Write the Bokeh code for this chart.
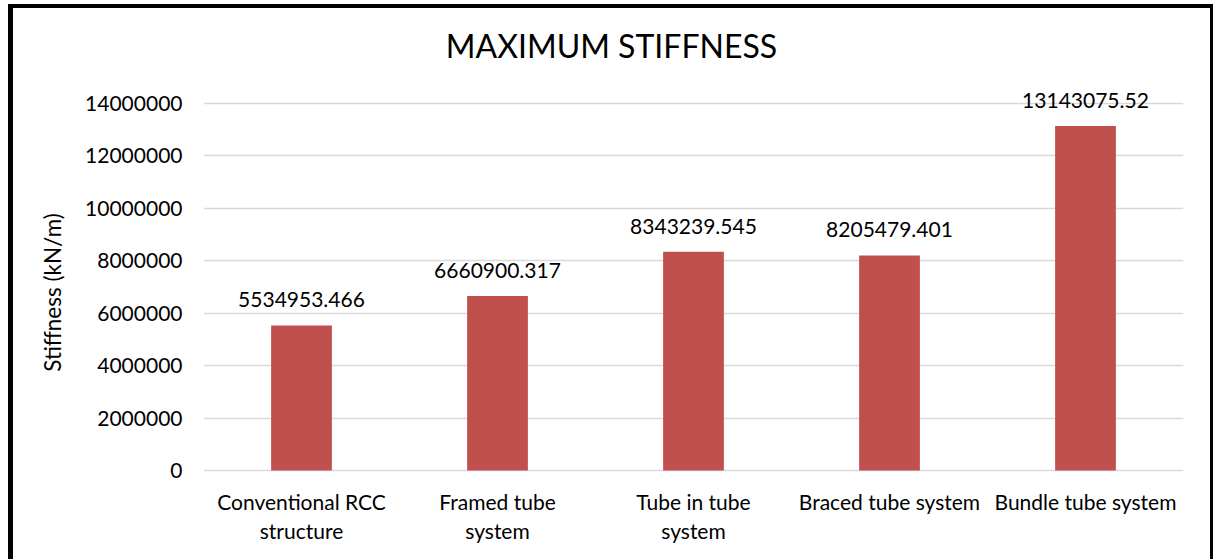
from bokeh.plotting import figure
from bokeh.models import ColumnDataSource, LabelSet, Label, FixedTicker, BasicTickFormatter
from bokeh.core.properties import value
from bokeh.embed import file_html
from bokeh.resources import INLINE

categories = ["Conventional RCC structure", "Framed tube system", "Tube in tube system",
              "Braced tube system", "Bundle tube system"]
category_line1 = ["Conventional RCC", "Framed tube", "Tube in tube",
                  "Braced tube system", "Bundle tube system"]
category_line2 = ["structure", "system", "system", "", ""]
stiffness = [5534953.466, 6660900.317, 8343239.545, 8205479.401, 13143075.52]
value_labels = ["5534953.466", "6660900.317", "8343239.545", "8205479.401", "13143075.52"]
y_ticks = [0, 2000000, 4000000, 6000000, 8000000, 10000000, 12000000, 14000000]

FONT = "Lato"
Y_MAX = 14000000
PX_PER_UNIT = 367 / Y_MAX  # plot area: 367 px for 0..14M

source = ColumnDataSource(dict(cat=categories, val=stiffness, lab=value_labels,
                               l1=category_line1, l2=category_line2,
                               base=[0] * len(categories)))

p = figure(x_range=categories,
           y_range=(-89 / PX_PER_UNIT, Y_MAX + 78 / PX_PER_UNIT),
           width=1197, height=551,
           output_backend="svg", toolbar_location=None,
           min_border_left=190, min_border_right=27, min_border_top=17, min_border_bottom=0,
           styles={"margin-left": "13px", "margin-top": "8px",
                   "box-shadow": "-5px -4px 0 0 black, 3px -4px 0 0 black, "
                                 "-5px 0 0 0 black, 3px 0 0 0 black"})
p.outline_line_color = None
p.background_fill_color = "white"
p.border_fill_color = "white"

p.vbar(x="cat", top="val", width=0.31, source=source, fill_color="#c0504d", line_color=None)

labels = LabelSet(x="cat", y="val", text="lab", source=source, y_offset=18,
                  text_align="center", text_baseline="alphabetic",
                  text_font=value(FONT), text_font_size=value("21px"), text_color="#000000")
p.add_layout(labels)

for col, off in (("l1", -39), ("l2", -68)):
    p.add_layout(LabelSet(x="cat", y="base", text=col, source=source, y_offset=off,
                          text_align="center", text_baseline="alphabetic",
                          text_font=value(FONT), text_font_size=value("21px"),
                          text_color="#000000"))

title = Label(x=408, y=514, x_units="screen", y_units="screen", text="MAXIMUM STIFFNESS",
              text_align="center", text_baseline="alphabetic",
              text_font=FONT, text_font_size="32px", text_color="#000000")
p.add_layout(title)

ticker = FixedTicker(ticks=y_ticks)
p.xgrid.grid_line_color = None
p.ygrid.ticker = ticker
p.ygrid.grid_line_color = "#d9d9d9"
p.ygrid.grid_line_width = 1.5

p.xaxis.visible = False

p.yaxis.ticker = ticker
p.yaxis.formatter = BasicTickFormatter(use_scientific=False)
p.yaxis.axis_line_color = None
p.yaxis.major_tick_line_color = None
p.yaxis.minor_tick_line_color = None
p.yaxis.major_tick_out = 0
p.yaxis.major_tick_in = 0
p.yaxis.major_label_standoff = 21
p.yaxis.major_label_text_font = FONT
p.yaxis.major_label_text_font_size = "21px"
p.yaxis.major_label_text_color = "#000000"
p.yaxis.axis_label = "Stiffness (kN/m)"
p.yaxis.axis_label_text_font = FONT
p.yaxis.axis_label_text_font_size = "22.5px"
p.yaxis.axis_label_text_font_style = "normal"
p.yaxis.axis_label_text_color = "#000000"
p.yaxis.axis_label_standoff = 16

open("out.html", "w").write(file_html(p, INLINE))
